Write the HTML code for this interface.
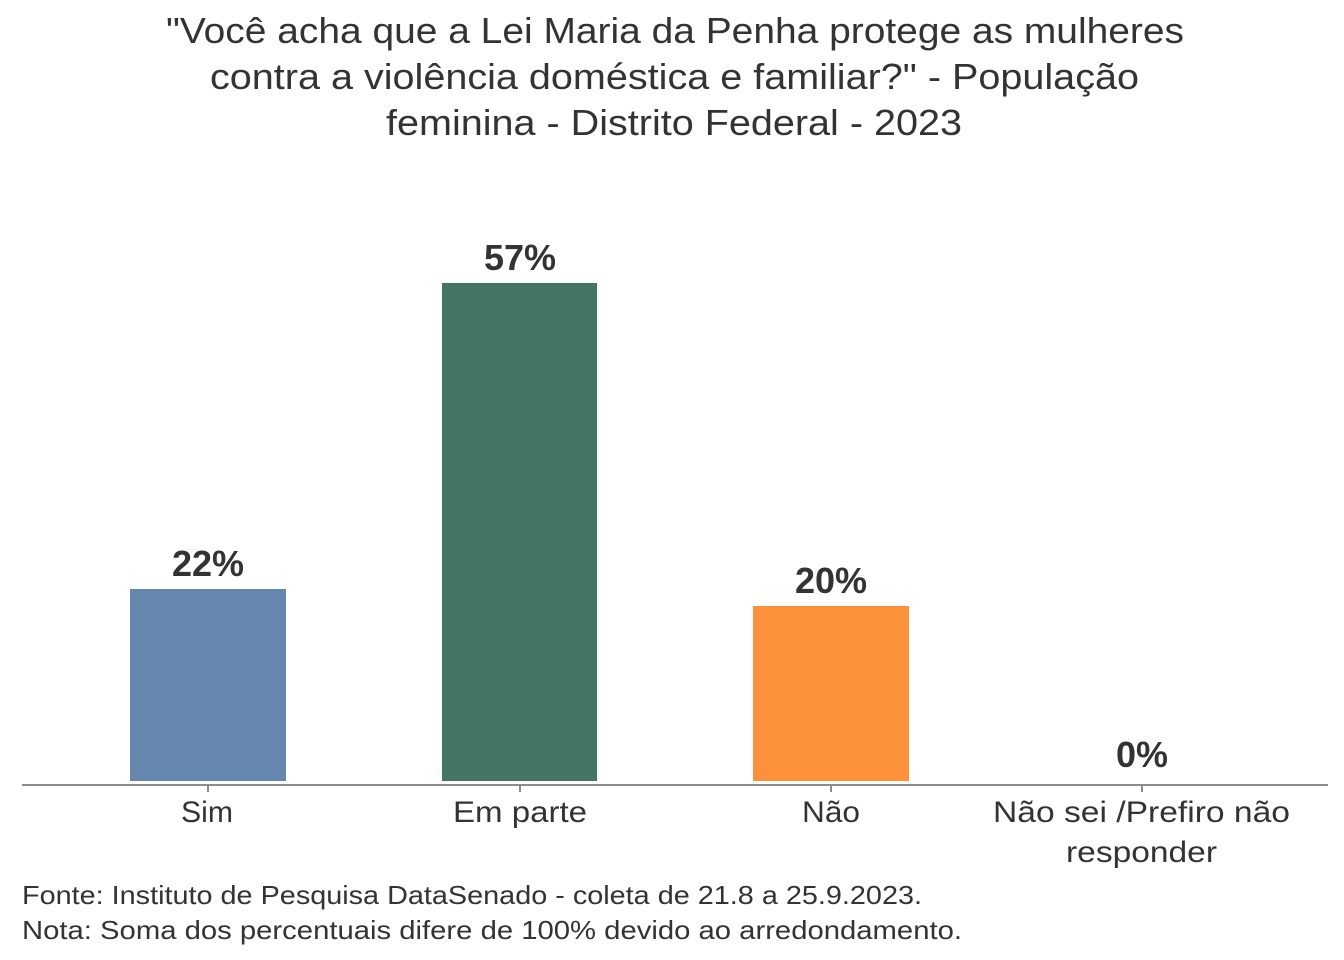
<!DOCTYPE html>
<html><head><meta charset="utf-8"><style>
html,body{margin:0;padding:0;background:#fff;}
svg{display:block;}
text{font-family:"Liberation Sans",sans-serif;fill:#333;}
</style></head><body>
<svg width="1344" height="960" viewBox="0 0 1344 960">
<g font-size="36" text-anchor="start">
<text x="166" y="43" textLength="1018" lengthAdjust="spacingAndGlyphs">"Você acha que a Lei Maria da Penha protege as mulheres</text>
<text x="210" y="89" textLength="929" lengthAdjust="spacingAndGlyphs">contra a violência doméstica e familiar?" - População</text>
<text x="386" y="135" textLength="576" lengthAdjust="spacingAndGlyphs">feminina - Distrito Federal - 2023</text>
</g>
<rect x="130" y="589" width="156" height="192" fill="#6587AE"/>
<rect x="442" y="283" width="155" height="498" fill="#447563"/>
<rect x="753" y="606" width="156" height="175" fill="#FB913B"/>
<line x1="22" y1="785" x2="1328" y2="785" stroke="#8c8c8c" stroke-width="2"/>
<g stroke="#8c8c8c" stroke-width="2">
<line x1="208" y1="785" x2="208" y2="792"/><line x1="520" y1="785" x2="520" y2="792"/>
<line x1="831" y1="785" x2="831" y2="792"/><line x1="1142" y1="785" x2="1142" y2="792"/>
</g>
<g font-size="36" font-weight="bold" text-anchor="middle">
<text x="208" y="576">22%</text><text x="520" y="270">57%</text>
<text x="831" y="593">20%</text><text x="1142" y="767">0%</text>
</g>
<g font-size="30">
<text x="181" y="822" textLength="52" lengthAdjust="spacingAndGlyphs">Sim</text>
<text x="453" y="822" textLength="134" lengthAdjust="spacingAndGlyphs">Em parte</text>
<text x="802" y="822" textLength="58" lengthAdjust="spacingAndGlyphs">Não</text>
<text x="993" y="822" textLength="297" lengthAdjust="spacingAndGlyphs">Não sei /Prefiro não</text>
<text x="1066" y="862" textLength="151" lengthAdjust="spacingAndGlyphs">responder</text>
</g>
<g font-size="26">
<text x="22" y="904" textLength="900" lengthAdjust="spacingAndGlyphs">Fonte: Instituto de Pesquisa DataSenado - coleta de 21.8 a 25.9.2023.</text>
<text x="22" y="939" textLength="940" lengthAdjust="spacingAndGlyphs">Nota: Soma dos percentuais difere de 100% devido ao arredondamento.</text>
</g>
</svg>
</body></html>
